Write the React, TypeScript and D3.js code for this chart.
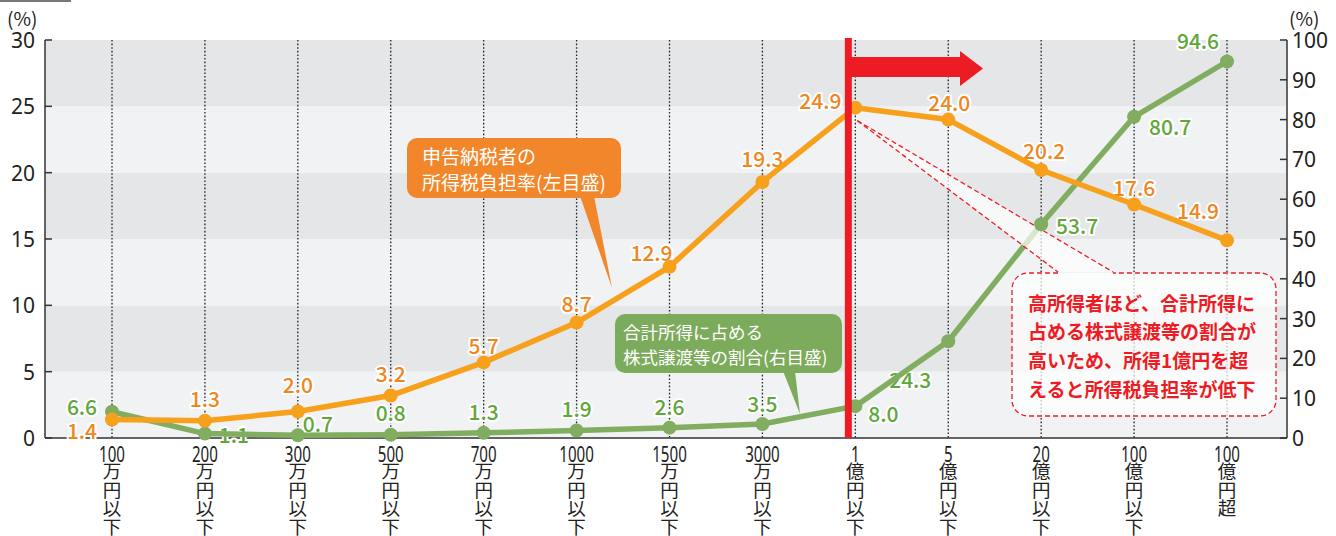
import React from "react";
import * as d3 from "d3";

const incomeNums = ["100", "200", "300", "500", "700", "1000", "1500", "3000", "1", "5", "20", "100", "100"];
const incomeUnits = ["万円以下", "万円以下", "万円以下", "万円以下", "万円以下", "万円以下", "万円以下", "万円以下", "億円以下", "億円以下", "億円以下", "億円以下", "億円超"];
const taxBurden = [1.4, 1.3, 2.0, 3.2, 5.7, 8.7, 12.9, 19.3, 24.9, 24.0, 20.2, 17.6, 14.9];
const stockShare = [6.6, 1.1, 0.7, 0.8, 1.3, 1.9, 2.6, 3.5, 8.0, 24.3, 53.7, 80.7, 94.6];
const leftTicks = [0, 5, 10, 15, 20, 25, 30];
const rightTicks = [0, 10, 20, 30, 40, 50, 60, 70, 80, 90, 100];
const noteLines = ["高所得者ほど、合計所得に", "占める株式譲渡等の割合が", "高いため、所得1億円を超", "えると所得税負担率が低下"];

// label placement offsets (dx, dy) relative to each point
const taxLabelOffsets = [[-30, 11], [0, -23], [0, -27], [0, -23], [0, -17], [0, -20], [-18, -15], [0, -24], [-35, -8], [1, -18], [3, -20], [0, -18], [-29, -30]];
const shareLabelOffsets = [[-30, -6], [29, 0], [20, -12], [0, -23], [0, -22], [0, -22], [0, -22], [0, -21], [28, 7], [-38, 38], [36, 1], [36, 9], [-29, -21]];

const ORANGE_LINE = "#f6a01c";
const ORANGE_TEXT = "#f0861e";
const ORANGE_BOX = "#f1862a";
const GREEN_LINE = "#80ad5f";
const GREEN_TEXT = "#5fa73a";
const GREEN_BOX = "#7dab5c";
const RED = "#ed1c24";
const FONT = "Noto Sans CJK JP, Noto Sans, sans-serif";
const NUMFONT = "Noto Sans, sans-serif";

export default function App() {
  const W = 1336, H = 536;
  const left = 45, right = 1287, top = 40, bottom = 438;
  const x = d3.scalePoint<number>().domain(d3.range(incomeNums.length)).range([112, 1227]);
  const yL = d3.scaleLinear().domain([0, 30]).range([bottom, top]);
  const yR = d3.scaleLinear().domain([0, 100]).range([bottom, top]);

  const taxPts: [number, number][] = taxBurden.map((v, i) => [x(i)!, yL(v)]);
  const sharePts: [number, number][] = stockShare.map((v, i) => [x(i)!, yR(v)]);
  const line = d3.line();

  const bands = d3.range(6).map((i) => ({ y0: yL(i * 5 + 5), y1: yL(i * 5), fill: i % 2 === 0 ? "#f1f2f4" : "#e5e6e8" }));

  const redX = x(8)! - 7;
  const pt24 = taxPts[8];

  const halo = { stroke: "#fff", strokeWidth: 4, paintOrder: "stroke" as const, strokeLinejoin: "round" as const };

  return (
    <svg width={W} height={H} style={{ position: "absolute", left: 0, top: 0 }} fontFamily={FONT}>
      <rect x={0} y={0} width={W} height={H} fill="#fff" />
      <rect x={0} y={0} width={71} height={2} fill="#777" />
      {bands.map((b, i) => (
        <rect key={i} x={left} y={b.y0} width={right - left} height={b.y1 - b.y0} fill={b.fill} />
      ))}
      {incomeNums.map((_, i) => (
        <line key={i} x1={x(i)} x2={x(i)} y1={top} y2={bottom} stroke="#222" strokeWidth={1.3} strokeDasharray="1.6,2" />
      ))}
      {/* axes */}
      <line x1={left} x2={left} y1={top} y2={bottom} stroke="#333" strokeWidth={1.5} />
      <line x1={right} x2={right} y1={top} y2={bottom} stroke="#333" strokeWidth={1.5} />
      <line x1={left} x2={right} y1={bottom} y2={bottom} stroke="#333" strokeWidth={1.5} />
      {leftTicks.map((t) => (
        <g key={t}>
          <line x1={left} x2={left + 7} y1={yL(t)} y2={yL(t)} stroke="#333" strokeWidth={1.5} />
          <text x={35} y={yL(t)} textAnchor="end" dominantBaseline="central" fontSize={21} fill="#222" fontFamily={NUMFONT}>{t}</text>
        </g>
      ))}
      {rightTicks.map((t) => (
        <g key={t}>
          <line x1={right - 7} x2={right} y1={yR(t)} y2={yR(t)} stroke="#333" strokeWidth={1.5} />
          <text x={1292} y={yR(t)} textAnchor="start" dominantBaseline="central" fontSize={21} fill="#222" fontFamily={NUMFONT}>{t}</text>
        </g>
      ))}
      <text x={7} y={17} dominantBaseline="central" fontSize={19} fill="#222" fontFamily={FONT}>(%)</text>
      <text x={1289} y={17} dominantBaseline="central" fontSize={19} fill="#222" fontFamily={FONT}>(%)</text>

      {/* x labels */}
      {incomeNums.map((n, i) => (
        <g key={i} transform={`translate(${x(i)},0)`}>
          <text transform="translate(0,453) scale(0.72,1)" textAnchor="middle" dominantBaseline="central" fontSize={21} fill="#222" fontFamily={NUMFONT}>{n}</text>
          <text x={0} y={462} fontSize={18.5} fill="#222" fontFamily={FONT} style={{ writingMode: "vertical-rl", textOrientation: "upright" }}>{incomeUnits[i]}</text>
        </g>
      ))}

      {/* value labels */}
      {taxPts.map((p, i) => (
        <text key={"t" + i} x={p[0] + taxLabelOffsets[i][0]} y={p[1] + taxLabelOffsets[i][1]} textAnchor="middle" dominantBaseline="central" fontSize={21} fontWeight={500} fill={ORANGE_TEXT} fontFamily={FONT} {...halo}>
          {taxBurden[i].toFixed(1)}
        </text>
      ))}
      {sharePts.map((p, i) => (
        <text key={"s" + i} x={p[0] + shareLabelOffsets[i][0]} y={p[1] + shareLabelOffsets[i][1]} textAnchor="middle" dominantBaseline="central" fontSize={21} fontWeight={500} fill={GREEN_TEXT} fontFamily={FONT} {...halo}>
          {stockShare[i].toFixed(1)}
        </text>
      ))}

      {/* lines */}
      <path d={line(sharePts)!} fill="none" stroke={GREEN_LINE} strokeWidth={5.5} strokeLinejoin="round" />
      <path d={line(taxPts)!} fill="none" stroke={ORANGE_LINE} strokeWidth={5.5} strokeLinejoin="round" />

      {/* annotation wedge and box */}
      <polygon points={`${pt24[0] + 2},${pt24[1] + 13} 1058,272 1113,272`} fill="rgba(255,255,255,0.7)" />
      <rect x={1012} y={273} width={264} height={143} rx={16} fill="rgba(255,255,255,0.72)" stroke="none" />
      <path d={`M1058,273 H1028 A16,16 0 0 0 1012,289 V400 A16,16 0 0 0 1028,416 H1260 A16,16 0 0 0 1276,400 V289 A16,16 0 0 0 1260,273 H1113`} fill="none" stroke={RED} strokeWidth={1.3} strokeDasharray="5,3" />
      <line x1={pt24[0] + 2} y1={pt24[1] + 13} x2={1058} y2={272} stroke={RED} strokeWidth={1.3} strokeDasharray="5,3" />
      <line x1={pt24[0] + 2} y1={pt24[1] + 13} x2={1113} y2={272} stroke={RED} strokeWidth={1.3} strokeDasharray="5,3" />

      {/* points */}
      {sharePts.map((p, i) => <circle key={"sp" + i} cx={p[0]} cy={p[1]} r={7} fill={GREEN_LINE} />)}
      {taxPts.map((p, i) => <circle key={"tp" + i} cx={p[0]} cy={p[1]} r={7} fill={ORANGE_LINE} />)}

      {noteLines.map((s, i) => (
        <text key={i} x={1028} y={302 + i * 28.7} dominantBaseline="central" fontSize={19} fontWeight={700} fill={RED} fontFamily={FONT}>{s}</text>
      ))}

      {/* orange callout */}
      <rect x={407} y={138} width={214} height={60} rx={10} fill={ORANGE_BOX} />
      <polygon points="580,196 594,196 612,288" fill={ORANGE_BOX} />
      <text x={422} y={155} dominantBaseline="central" fontSize={19} fill="#fff" fontFamily={FONT}>申告納税者の</text>
      <text x={422} y={181} dominantBaseline="central" fontSize={19} fill="#fff" fontFamily={FONT}>所得税負担率(左目盛)</text>

      {/* green callout */}
      <rect x={615} y={314} width={227} height={59} rx={10} fill={GREEN_BOX} />
      <polygon points="783,371 795,371 800,414" fill={GREEN_BOX} />
      <text x={623} y={331} dominantBaseline="central" fontSize={17.5} fill="#fff" fontFamily={FONT}>合計所得に占める</text>
      <text x={623} y={356} dominantBaseline="central" fontSize={17.5} fill="#fff" fontFamily={FONT}>株式譲渡等の割合(右目盛)</text>

      {/* red marker line and arrow */}
      <rect x={redX - 3.5} y={38} width={7} height={bottom - 38} fill={RED} />
      <polygon points={`${redX},57 960,57 960,51 983,68.5 960,86 960,77 ${redX},77`} fill={RED} />
    </svg>
  );
}
